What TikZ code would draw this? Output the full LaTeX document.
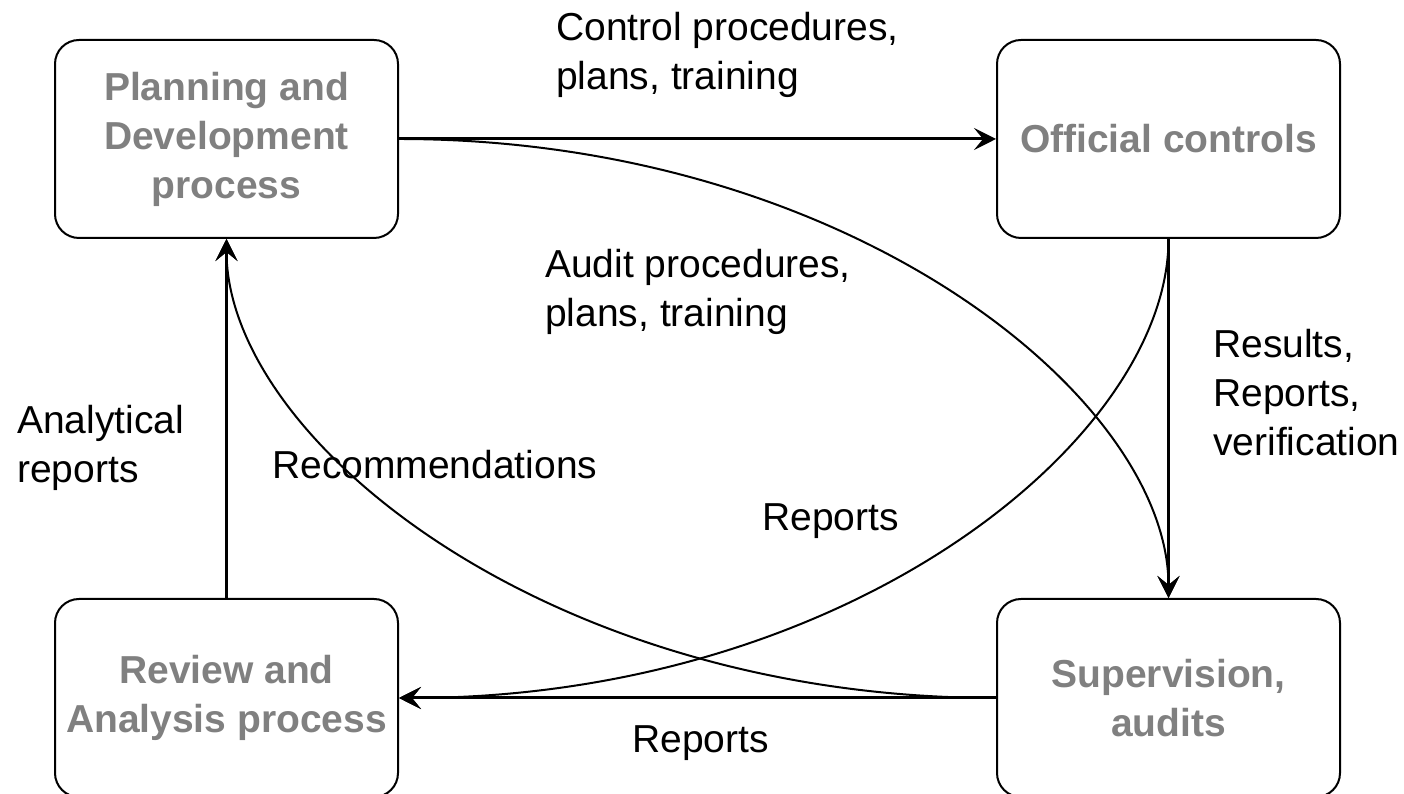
\documentclass[tikz,border=0pt]{standalone}
\usepackage{fontspec}
\setmainfont{Liberation Sans}
\usetikzlibrary{arrows.meta,positioning}
\definecolor{procgray}{RGB}{128,128,128}

\begin{document}
\begin{tikzpicture}[
  x=1pt, y=1pt,
  >={Stealth[length=22pt, width=22pt, inset=9pt]},
  every node/.style={font=\fontsize{39}{49}\selectfont},
  proc/.style={draw, line width=2pt, rounded corners=24pt,
               minimum width=343pt, minimum height=198pt, align=center,
               text=procgray, font=\fontsize{39}{49}\selectfont\bfseries},
  lbl/.style={anchor=west, align=left, inner sep=0pt},
  flow/.style={->, line width=3pt},
  loop/.style={->, line width=2pt}
]
  \useasboundingbox (0,0) rectangle (1404,794);

  \node[proc] (plan) at (226.5,655) {Planning and\\Development\\process};
  \node[proc, right=597pt of plan] (ctrl) {Official controls};
  \node[proc, below=359pt of plan] (review) {Review and\\Analysis process};
  \node[proc, right=597pt of review] (audit) {Supervision,\\audits};

  \draw[flow] (plan) -- (ctrl);
  \draw[flow] (ctrl) -- (audit);
  \draw[flow] (audit) -- (review);
  \draw[flow] (review) -- (plan);

  \draw[loop] (plan.east) .. controls +(450,0) and +(0,200) .. (audit.north);
  \draw[loop] (ctrl.south) .. controls +(0,-200) and +(450,0) .. (review.east);
  \draw[loop] (audit.west) .. controls +(-450,0) and +(0,-200) .. (plan.south);

  \node[lbl] (lctrl) at (556,739) {Control procedures,\\plans, training};
  \node[lbl] (laudit) at (545,502) {Audit procedures,\\plans, training};
  \node[lbl] (lres) at (1213,401) {Results,\\Reports,\\verification};
  \node[lbl] (lanl) at (17,346) {Analytical\\reports};
  \node[lbl] (lrec) at (272,329) {Recommendations};
  \node[lbl] (lrep) at (762,273) {Reports};
  \node[lbl] (lrepb) at (632,51) {Reports};
\end{tikzpicture}
\end{document}
